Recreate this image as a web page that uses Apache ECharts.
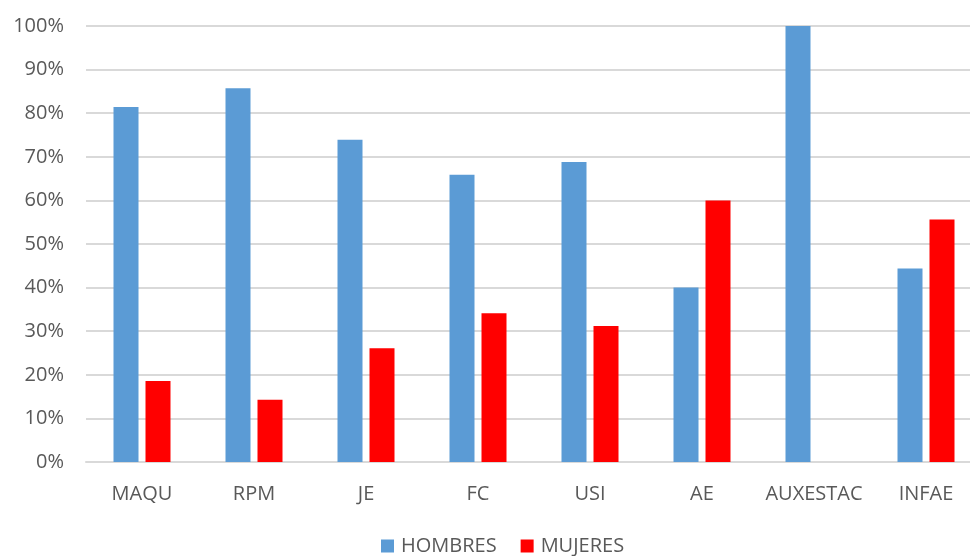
<!DOCTYPE html>
<html><head><meta charset="utf-8">
<script src="https://cdn.jsdelivr.net/npm/echarts@6/dist/echarts.min.js"></script>
<style>html,body{margin:0;padding:0;background:#fff}#c{width:970px;height:556px}</style>
</head><body><div id="c"></div>
<script>
const categories = ['MAQU','RPM','JE','FC','USI','AE','AUXESTAC','INFAE'];
const hombres = [81.4, 85.7, 73.9, 65.9, 68.8, 40.0, 100.0, 44.4];
const mujeres = [18.6, 14.3, 26.1, 34.1, 31.2, 60.0, 0, 55.6];
const yTicks = [0,10,20,30,40,50,60,70,80,90,100];

const font = 'Open Sans, Liberation Sans, sans-serif';
const chart = echarts.init(document.getElementById('c'), null, {renderer:'canvas'});
chart.setOption({
  animation:false,
  grid:{left:86, width:896, top:26, bottom:94, containLabel:false, outerBoundsMode:'none'},
  legend:{bottom:0, left:381, padding:0, itemWidth:13, itemHeight:13, itemGap:24,
    icon:'rect',
    textStyle:{color:'#595959', fontSize:20, fontFamily:font, padding:[0,0,0,2]},
    data:['HOMBRES','MUJERES']},
  xAxis:{type:'category', data:categories,
    axisLine:{lineStyle:{color:'#d9d9d9', width:2}}, axisTick:{show:false},
    axisLabel:{color:'#595959', fontSize:20, fontFamily:font, margin:22, interval:0}},
  yAxis:{type:'value', min:0, max:100, interval:10,
    axisLine:{show:false}, axisTick:{show:false},
    splitLine:{lineStyle:{color:'#d9d9d9', width:2}},
    axisLabel:{color:'#595959', fontSize:20, fontFamily:font, margin:22,
      formatter:v=> yTicks.includes(v) ? v+'%' : ''}},
  series:[
    {name:'HOMBRES', type:'bar', data:hombres, barWidth:25, barGap:'28%',
     itemStyle:{color:'#5b9bd5'}},
    {name:'MUJERES', type:'bar', data:mujeres, barWidth:25, barGap:'28%',
     itemStyle:{color:'#ff0000'}}
  ]
});
</script></body></html>
